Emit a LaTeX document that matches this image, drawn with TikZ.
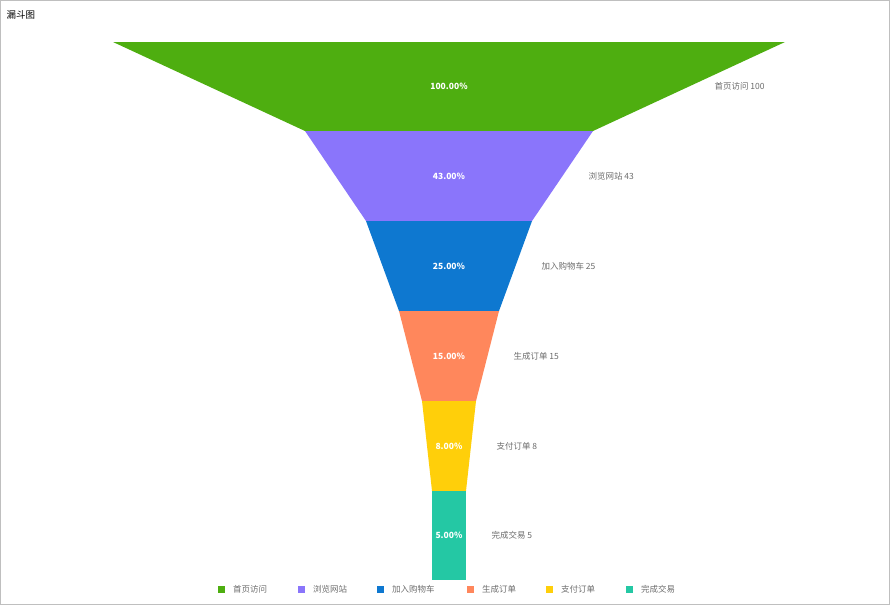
\documentclass[tikz,border=0pt]{standalone}
\usepackage{fontspec}
\setmainfont{Noto Sans CJK SC}
\definecolor{cA}{HTML}{4EAE10}
\definecolor{cB}{HTML}{8A75FB}
\definecolor{cC}{HTML}{0E78D0}
\definecolor{cD}{HTML}{FF875C}
\definecolor{cE}{HTML}{FFCF0A}
\definecolor{cF}{HTML}{24C8A4}
\tikzset{
  pct/.style={text=white,font=\bfseries\fontsize{8.5}{10}\selectfont},
  lbl/.style={text=gray!85!black,font=\fontsize{8.5}{10}\selectfont,anchor=west},
  key/.style={minimum size=7pt,inner sep=0pt},
}
\begin{document}
\begin{tikzpicture}[x=1pt,y=-1pt]
	\useasboundingbox (0,0) rectangle (890,605);
	\draw[gray!50] (0.5,0.5) rectangle (889.5,604.5);
	\node[anchor=west,font=\fontsize{9.5}{11}\selectfont] (title) at (3,15) {漏斗图};
	% funnel segments
	\fill[cA] (113,42) -- (785,42) -- (593,131) -- (305,131) -- cycle;
	\fill[cB] (305,131) -- (593,131) -- (532,221) -- (366,221) -- cycle;
	\fill[cC] (366,221) -- (532,221) -- (499,311) -- (399,311) -- cycle;
	\fill[cD] (399,311) -- (499,311) -- (476,401) -- (422,401) -- cycle;
	\fill[cE] (422,401) -- (476,401) -- (466,491) -- (432,491) -- cycle;
	\fill[cF] (432,491) rectangle (466,580);
	\node[pct] (pA) at (449,86) {100.00\%};
	\node[pct] (pB) at (449,176) {43.00\%};
	\node[pct] (pC) at (449,266) {25.00\%};
	\node[pct] (pD) at (449,356) {15.00\%};
	\node[pct] (pE) at (449,446) {8.00\%};
	\node[pct] (pF) at (449,535) {5.00\%};
	\node[lbl] (lA) at (711,86) {首页访问 100};
	\node[lbl] (lB) at (585,176) {浏览网站 43};
	\node[lbl] (lC) at (538,266) {加入购物车 25};
	\node[lbl] (lD) at (510,356) {生成订单 15};
	\node[lbl] (lE) at (493,446) {支付订单 8};
	\node[lbl] (lF) at (488,535) {完成交易 5};
	% legend
	\foreach \c/\x/\t in {cA/221/首页访问,cB/301/浏览网站,cC/380/加入购物车,cD/470/生成订单,cE/549/支付订单,cF/629/完成交易}{
		\node[key,fill=\c] (k\c) at (\x,589) {};
		\node[lbl,xshift=5pt] (t\c) at (k\c.east) {\t};
	}
\end{tikzpicture}
\end{document}
